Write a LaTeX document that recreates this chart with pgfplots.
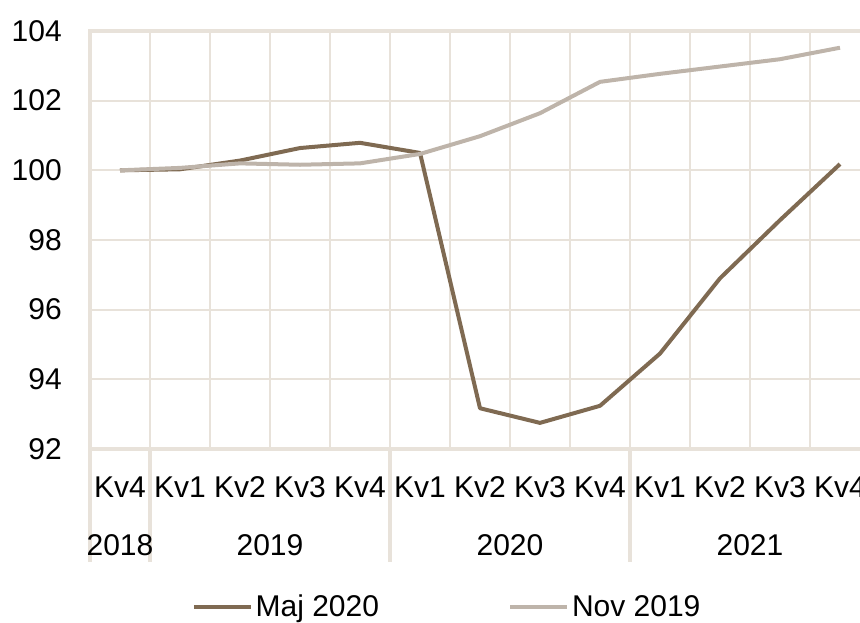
\documentclass[border=0pt]{standalone}
\usepackage{pgfplots}
\pgfplotsset{compat=1.18}
\usepackage{fontspec}
\setmainfont{Liberation Sans}
\definecolor{gridc}{HTML}{E8E2DA}
\definecolor{maj}{HTML}{7F6A52}
\definecolor{nov}{HTML}{BEB4AA}
\begin{document}
\begin{tikzpicture}[font=\fontsize{22.5pt}{27pt}\selectfont]
\useasboundingbox (0,0) rectangle (645pt,466.5pt);
\clip (0,0) rectangle (645pt,466.5pt);
\begin{axis}[
  at={(67.5pt,129.75pt)}, anchor=south west,
  scale only axis, width=585pt, height=313.5pt,
  xmin=-0.5, xmax=12.5, ymin=92, ymax=104,
  ytick={92,94,...,104},
  xtick={0,...,12},
  xticklabels={Kv4,Kv1,Kv2,Kv3,Kv4,Kv1,Kv2,Kv3,Kv4,Kv1,Kv2,Kv3,Kv4},
  minor xtick={-0.5,0.5,...,12.5},
  xmajorgrids=false, xminorgrids=true, ymajorgrids=true,
  grid style={gridc, line width=1.4pt},
  minor grid style={gridc, line width=1.4pt},
  axis line style={gridc, line width=2.6pt},
  major tick length=0pt, minor tick length=0pt,
  tick pos=left,
  extra x ticks={-0.5,0.5,4.5,8.5},
  extra x tick labels={},
  extra x tick style={tick align=outside, major tick length=84.75pt,
     tick style={gridc, line width=2.6pt}, grid=none},
  /pgf/number format/assume math mode=true,
  yticklabel style={anchor=east, inner sep=0pt, xshift=-21pt},
  xticklabel style={anchor=base, inner sep=0pt, yshift=-36pt},
  clip=false,
  legend columns=2,
  legend style={at={(axis description cs:0.4584,-0.378)}, anchor=center,
     draw=none, fill=none, inner sep=0pt, nodes={inner sep=2pt},
     /tikz/every even column/.append style={column sep=95pt}},
  legend image code/.code={\draw[#1] (0pt,0pt) -- (42.75pt,0pt);},
  every axis plot/.append style={line width=3pt, line join=round},
]
\addplot[maj] table[x=x,y=y] {
x y
0 100.0
1 100.03
2 100.28
3 100.64
4 100.79
5 100.5
6 93.17
7 92.75
8 93.24
9 94.74
10 96.9
11 98.57
12 100.18
};
\addlegendentry{Maj 2020}
\addplot[nov] table[x=x,y=y] {
x y
0 100.0
1 100.07
2 100.2
3 100.16
4 100.2
5 100.47
6 100.98
7 101.64
8 102.54
9 102.77
10 102.98
11 103.19
12 103.52
};
\addlegendentry{Nov 2019}
\node[anchor=base, inner sep=0pt, yshift=-79.5pt] at (axis cs:0,92) {2018};
\node[anchor=base, inner sep=0pt, yshift=-79.5pt] at (axis cs:2.5,92) {2019};
\node[anchor=base, inner sep=0pt, yshift=-79.5pt] at (axis cs:6.5,92) {2020};
\node[anchor=base, inner sep=0pt, yshift=-79.5pt] at (axis cs:10.5,92) {2021};
\end{axis}
\end{tikzpicture}
\end{document}
